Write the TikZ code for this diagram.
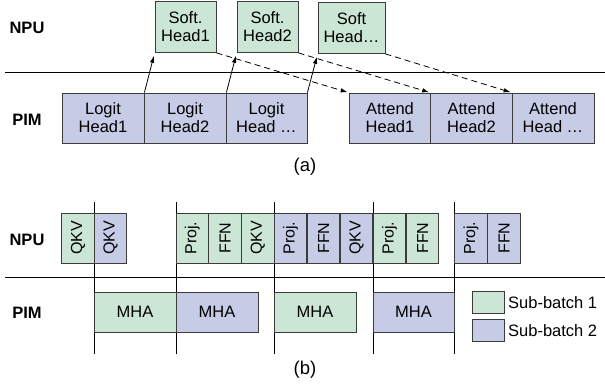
\documentclass[tikz,border=0pt]{standalone}
\usepackage{fontspec}
\setmainfont{Liberation Sans}
\usetikzlibrary{arrows.meta}

\definecolor{sbgreen}{RGB}{204,230,214}
\definecolor{sbblue}{RGB}{198,204,230}
\definecolor{boxline}{RGB}{60,60,60}

\tikzset{
  headbox/.style={draw=boxline, thick, inner sep=0pt, align=center,
    minimum width=82pt, minimum height=50pt, font=\fontsize{16.5}{18}\selectfont},
  opbox/.style={draw=boxline, thick, inner sep=0pt,
    minimum width=32.7pt, minimum height=50pt, font=\fontsize{16}{18}\selectfont},
  mhabox/.style={draw=boxline, thick, fill=sbgreen, inner sep=0pt,
    minimum width=82pt, minimum height=40pt, font=\fontsize{16.5}{18}\selectfont},
  keybox/.style={draw=boxline, thick, inner sep=0pt, minimum width=32pt, minimum height=21.5pt},
  unitlabel/.style={font=\bfseries\fontsize{16.5}{18}\selectfont},
  plain/.style={font=\fontsize{16.5}{18}\selectfont},
  caption/.style={font=\fontsize{18.5}{20}\selectfont},
  upflow/.style={-{Latex[length=7pt,width=4.5pt]}, thick, shorten >=3pt},
  passflow/.style={-{Latex[length=7pt,width=4.5pt]}, thick, dash pattern=on 6pt off 4pt, shorten >=1pt}
}

\begin{document}
\begin{tikzpicture}[x=1pt, y=-1pt]
  \useasboundingbox (0,0) rectangle (605,385);

  % (a) head pipelining
  \node[unitlabel] (npua) at (27,28) {NPU};
  \node[unitlabel] (pima) at (27,120) {PIM};
  \draw[thick] (5,72) -- (605,72);

  \node[headbox, fill=sbgreen, minimum width=61pt, minimum height=51pt] (soft1) at (185.5,27) {Soft.\\Head1};
  \node[headbox, fill=sbgreen, minimum width=61pt, minimum height=51pt] (soft2) at (267.5,27) {Soft.\\Head2};
  \node[headbox, fill=sbgreen, minimum width=67pt, minimum height=51pt] (soft3) at (351.5,28) {Soft\\Head\dots};

  \node[headbox, fill=sbblue] (logit1) at (103,118) {Logit\\Head1};
  \node[headbox, fill=sbblue] (logit2) at (185,118) {Logit\\Head2};
  \node[headbox, fill=sbblue, minimum width=81pt] (logit3) at (266.5,118) {Logit\\Head \dots};

  \node[headbox, fill=sbblue] (attend1) at (390,118) {Attend\\Head1};
  \node[headbox, fill=sbblue] (attend2) at (471.5,118) {Attend\\Head2};
  \node[headbox, fill=sbblue] (attend3) at (553,118) {Attend\\Head \dots};

  \foreach \i in {1,2,3} {
    \draw[upflow] (logit\i.north east) -- (soft\i.south west);
    \draw[passflow] (soft\i.south east) -- (attend\i.north west);
  }

  \node[caption] (capa) at (305,167) {(a)};

  % (b) sub-batch interleaving
  \node[unitlabel] (npub) at (27,240) {NPU};
  \node[unitlabel] (pimb) at (27,313) {PIM};
  \draw[thick] (5,277) -- (605,277);
  \foreach \x in {94,176,274,373,454}
    \draw[thick] (\x,202) -- (\x,354);

  \foreach \x/\txt/\col [count=\i] in {78/QKV/sbgreen, 110.5/QKV/sbblue,
      192.3/Proj./sbgreen, 225/FFN/sbgreen, 257.7/QKV/sbgreen,
      290.5/Proj./sbblue, 323.5/FFN/sbblue, 356.5/QKV/sbblue,
      389.5/Proj./sbgreen, 422.5/FFN/sbgreen,
      471/Proj./sbblue, 504/FFN/sbblue}
    \node[opbox, fill=\col] (op\i) at (\x,238) {\rotatebox{90}{\txt}};

  \node[mhabox] (mha1) at (135,312) {MHA};
  \node[mhabox, fill=sbblue] (mha2) at (217,312) {MHA};
  \node[mhabox] (mha3) at (315,312) {MHA};
  \node[mhabox, fill=sbblue, minimum width=81pt] (mha4) at (413.5,312) {MHA};

  \node[keybox, fill=sbgreen] (keyone) at (488,302.5) {};
  \node[keybox, fill=sbblue] (keytwo) at (488,330.5) {};
  \node[plain, anchor=west, inner sep=0pt] (keyonetxt) at (508,302.5) {Sub-batch 1};
  \node[plain, anchor=west, inner sep=0pt] (keytwotxt) at (508,330.5) {Sub-batch 2};

  \node[caption] (capb) at (305,370) {(b)};
\end{tikzpicture}
\end{document}
